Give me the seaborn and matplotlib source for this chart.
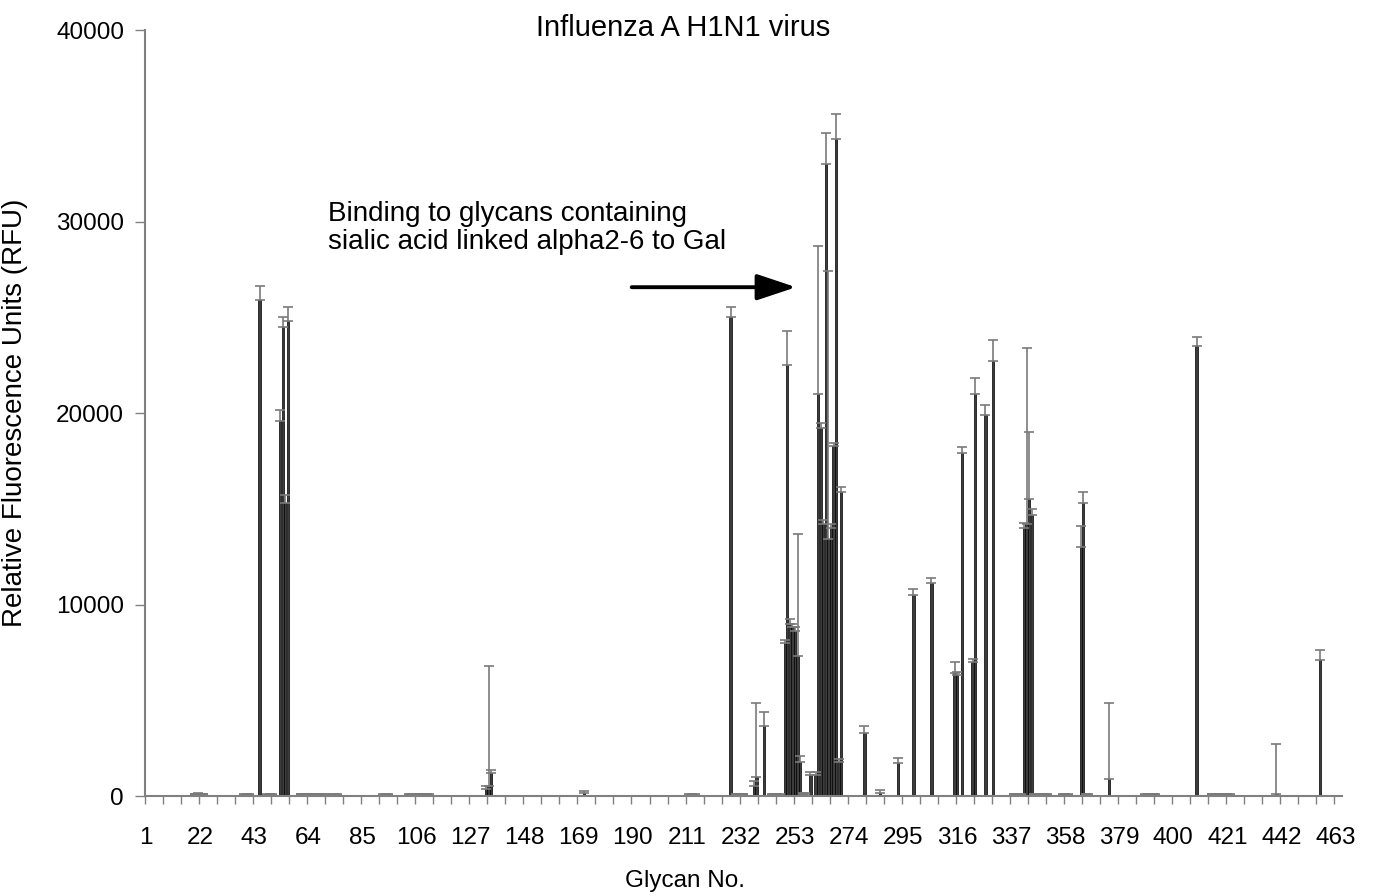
import numpy as np
import pandas as pd
import matplotlib
matplotlib.use("Agg")
import matplotlib.pyplot as plt
import seaborn as sns

# glycan number, mean RFU and upper error (all other glycans ~0)
glycan_ids = [20, 21, 22, 23, 39, 40, 41, 45, 48, 49, 50,
              53, 54, 55, 56, 61, 62, 63, 64, 65, 66, 67, 68, 70, 71, 74, 75,
              93, 94, 95, 103, 104, 105, 106, 107, 108, 109, 110, 111,
              133, 134, 135, 171, 212, 213, 214, 228, 230, 231, 232, 233,
              237, 238, 241, 244, 245, 246, 247,
              249, 250, 251, 252, 253, 254, 255, 256, 257, 259, 261,
              262, 263, 264, 265, 266, 267, 268, 269, 270, 271,
              280, 286, 293, 299, 306, 315, 316, 318, 322, 323, 327, 330,
              338, 339, 340, 341, 342, 343, 344, 345, 346, 347, 348, 349, 350, 351,
              357, 358, 359, 364, 365, 366, 367, 375,
              389, 390, 391, 392, 393, 409,
              415, 416, 417, 418, 419, 420, 421, 422, 440, 457]
rfu_mean = [80, 100, 90, 80, 60, 80, 70, 25900, 70, 90, 60,
            19600, 24500, 15300, 24800, 80, 100, 90, 80, 90, 100, 70, 80, 60, 70, 60, 70,
            60, 80, 50, 70, 90, 80, 70, 80, 90, 70, 60, 70,
            350, 500, 1200, 150, 60, 80, 60, 25000, 80, 90, 100, 80,
            500, 1000, 3650, 60, 80, 70, 60,
            8000, 22500, 9000, 8800, 8600, 7300, 1800, 100, 120, 1100, 1100,
            21000, 19200, 14200, 33000, 13400, 14000, 18300, 34300, 1800, 15900,
            3300, 150, 1700, 10500, 11100, 6400, 6300, 17900, 7000, 21000, 19900, 22700,
            80, 90, 80, 70, 14000, 14200, 15500, 14700, 80, 90, 80, 70, 80, 60,
            60, 80, 60, 13000, 15300, 80, 60, 900,
            60, 80, 70, 80, 60, 23500,
            80, 100, 90, 80, 90, 100, 80, 70, 100, 7100]
rfu_err = [40, 40, 30, 30, 30, 30, 30, 750, 30, 30, 20,
           550, 500, 400, 750, 30, 30, 30, 30, 30, 30, 30, 30, 20, 20, 30, 30,
           30, 30, 30, 30, 30, 30, 30, 30, 30, 30, 30, 30,
           150, 6300, 150, 120, 30, 30, 30, 550, 30, 30, 30, 30,
           300, 3850, 750, 20, 20, 20, 20,
           150, 1800, 250, 200, 200, 6400, 300, 40, 40, 170, 170,
           7700, 300, 200, 1600, 14000, 200, 150, 1300, 150, 250,
           350, 150, 280, 300, 300, 600, 200, 300, 150, 850, 500, 1100,
           30, 30, 30, 30, 250, 9200, 3500, 300, 30, 30, 30, 30, 30, 30,
           30, 30, 30, 1100, 550, 30, 30, 3950,
           30, 30, 30, 30, 30, 450,
           30, 30, 30, 30, 30, 30, 30, 30, 2600, 550]

n_glycans = 465
x_labels = list(range(1, 464, 21))

mean_map = dict(zip(glycan_ids, rfu_mean))
df = pd.DataFrame({"glycan": np.arange(1, n_glycans + 1)})
df["rfu"] = df["glycan"].map(mean_map).fillna(0)

sns.set_style("white")
plt.rcParams["font.family"] = ["Liberation Sans", "DejaVu Sans"]
plt.rcParams["text.color"] = "black"
plt.rcParams["xtick.color"] = "black"
plt.rcParams["ytick.color"] = "black"
plt.rcParams["axes.labelcolor"] = "black"

fig = plt.figure(figsize=(13.74, 8.96), dpi=100)
ax = fig.add_axes([0.1055, 0.1116, 0.8712, 0.8549])

sns.barplot(data=df, x="glycan", y="rfu", native_scale=True, width=0.9,
            color="#3c3c3c", saturation=1, errorbar=None,
            edgecolor="black", linewidth=0.5, ax=ax)
ax.errorbar(glycan_ids, rfu_mean, yerr=[np.zeros(len(rfu_err)), rfu_err],
            fmt="none", ecolor="#7a7a7a", elinewidth=1.2, capsize=3.5, capthick=1.2)

ax.set_xlim(0.5, n_glycans + 0.5)
ax.set_ylim(0, 40000)
ax.set_yticks(np.arange(0, 40001, 10000))
ax.set_xticks(np.arange(0.5, n_glycans + 1, 7))
ax.set_xticklabels([])
ax.set_xticks(x_labels, minor=True)
ax.set_xticklabels([str(v) for v in x_labels], minor=True)
ax.tick_params(axis="x", which="major", direction="out", length=6, width=1, color="#808080", bottom=True)
ax.tick_params(axis="x", which="minor", length=0, pad=22, labelsize=17.5)
ax.tick_params(axis="y", direction="out", length=7, width=1, color="#808080", left=True,
               labelsize=17.5, pad=8)

for side in ["top", "right"]:
    ax.spines[side].set_visible(False)
for side in ["left", "bottom"]:
    ax.spines[side].set_color("#808080")
    ax.spines[side].set_linewidth(1.5)

ax.set_xlabel("")
ax.set_ylabel("Relative Fluorescence Units (RFU)", fontsize=20)
ax.yaxis.set_label_coords(-0.098, 0.5)
fig.text(0.4985, 0.0165, "Glycan No.", ha="center", va="center", fontsize=17.5)
fig.text(0.497, 0.969, "Influenza A H1N1 virus", ha="center", va="center", fontsize=21)

ax.text(71.5, 29650, "Binding to glycans containing\nsialic acid linked alpha2-6 to Gal",
        ha="left", va="center", fontsize=20, linespacing=1.1)
ax.annotate("", xy=(254.5, 26570), xytext=(188.5, 26570),
            arrowprops=dict(arrowstyle="-|>,head_length=1.2,head_width=0.4",
                            color="black", lw=2.8, mutation_scale=20))

fig.savefig("out.png", dpi=100)
